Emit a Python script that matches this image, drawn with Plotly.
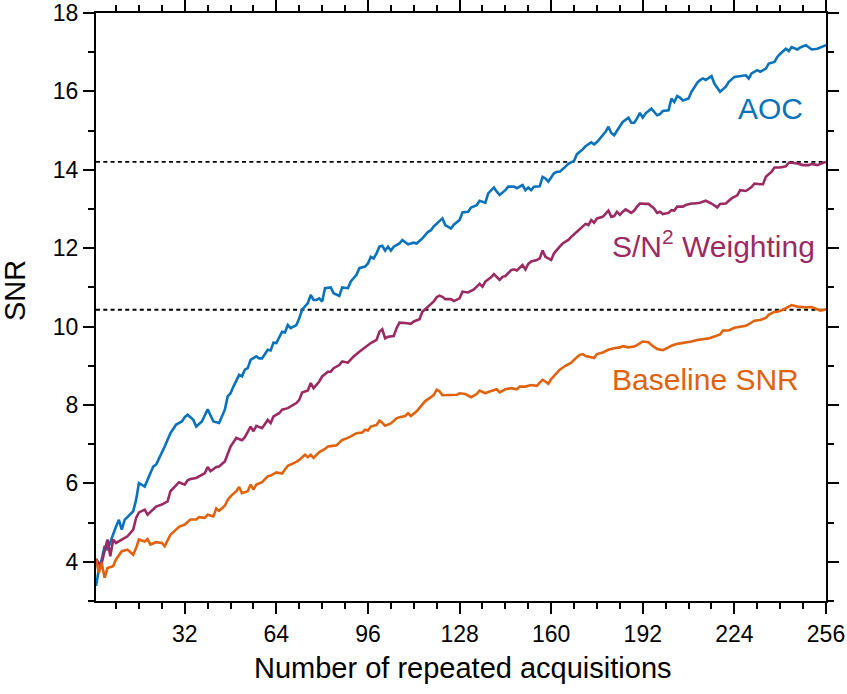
import plotly.graph_objects as go

# ---- data ----
aoc_x = [1, 2, 3, 4, 5, 7, 8, 9, 10, 11, 13, 14, 15, 16, 18, 19, 21, 22, 24, 25, 27, 29, 31, 32, 33, 35, 36, 38, 40, 42, 44, 46, 47, 48, 49, 51, 52, 53, 54, 55, 57, 58, 59, 61, 62, 63, 64, 66, 67, 68, 69, 71, 72, 73, 75, 76, 77, 78, 79, 80, 81, 83, 84, 86, 87, 89, 90, 92, 93, 95, 96, 97, 98, 99, 100, 101, 102, 103, 104, 105, 107, 108, 110, 112, 113, 115, 117, 118, 119, 120, 122, 123, 125, 126, 128, 129, 131, 132, 134, 135, 137, 138, 140, 141, 142, 144, 145, 147, 148, 150, 151, 152, 153, 154, 156, 157, 158, 159, 161, 162, 163, 165, 166, 168, 169, 171, 172, 174, 175, 176, 178, 179, 180, 181, 182, 183, 184, 185, 187, 188, 189, 190, 191, 192, 193, 195, 196, 197, 198, 199, 201, 202, 203, 204, 205, 206, 208, 209, 210, 211, 212, 213, 214, 216, 217, 219, 221, 222, 224, 226, 228, 229, 230, 232, 233, 235, 236, 238, 239, 240, 241, 242, 243, 244, 246, 247, 249, 251, 253, 254, 256]
aoc_y = [3.38, 3.8, 4.06, 4.4, 4.3, 4.73, 4.9, 5.07, 4.82, 5.07, 5.2, 5.29, 5.58, 6.01, 5.92, 6.09, 6.43, 6.48, 6.77, 6.94, 7.28, 7.5, 7.58, 7.69, 7.75, 7.62, 7.45, 7.58, 7.89, 7.58, 7.54, 7.88, 8.22, 8.3, 8.47, 8.77, 8.73, 8.9, 8.94, 9.15, 9.24, 9.19, 9.19, 9.41, 9.39, 9.59, 9.58, 9.87, 9.85, 10.04, 9.96, 10.04, 10.21, 10.43, 10.6, 10.81, 10.68, 10.68, 10.72, 10.64, 10.98, 11.0, 10.85, 10.78, 11.0, 10.98, 11.15, 11.32, 11.49, 11.53, 11.61, 11.78, 11.74, 11.87, 12.04, 12.06, 11.94, 12.04, 11.94, 12.04, 12.12, 12.21, 12.1, 12.14, 12.12, 12.25, 12.42, 12.46, 12.56, 12.62, 12.76, 12.59, 12.5, 12.6, 12.72, 12.91, 12.93, 13.04, 13.1, 13.21, 13.16, 13.4, 13.55, 13.44, 13.36, 13.48, 13.57, 13.57, 13.53, 13.61, 13.48, 13.55, 13.48, 13.57, 13.58, 13.82, 13.78, 13.7, 13.91, 13.95, 13.95, 14.08, 14.15, 14.23, 14.4, 14.52, 14.6, 14.7, 14.65, 14.71, 14.88, 14.97, 15.1, 14.94, 14.88, 15.01, 15.11, 15.22, 15.33, 15.2, 15.2, 15.31, 15.45, 15.33, 15.44, 15.56, 15.48, 15.39, 15.42, 15.5, 15.52, 15.82, 15.73, 15.88, 15.84, 15.77, 15.82, 15.99, 16.1, 16.22, 16.29, 16.33, 16.29, 16.39, 16.2, 15.99, 16.12, 16.24, 16.37, 16.39, 16.41, 16.33, 16.46, 16.54, 16.5, 16.58, 16.71, 16.75, 16.88, 16.96, 17.03, 17.09, 17.03, 17.13, 17.07, 17.12, 17.18, 17.07, 17.09, 17.12, 17.18]

sn2_x = [1, 2, 3, 5, 6, 7, 8, 10, 11, 12, 14, 15, 16, 18, 19, 21, 22, 24, 26, 27, 29, 30, 32, 33, 34, 36, 37, 39, 40, 41, 43, 44, 46, 47, 48, 50, 52, 53, 55, 56, 57, 59, 60, 61, 62, 63, 65, 66, 68, 69, 71, 72, 73, 75, 76, 77, 79, 80, 82, 83, 84, 86, 87, 89, 91, 93, 94, 96, 97, 99, 100, 101, 102, 103, 105, 106, 107, 109, 111, 112, 114, 115, 117, 119, 120, 121, 122, 123, 125, 126, 128, 129, 131, 133, 134, 135, 136, 137, 139, 140, 142, 143, 144, 146, 147, 148, 150, 151, 152, 153, 155, 156, 157, 158, 160, 161, 163, 164, 166, 167, 169, 171, 172, 173, 174, 175, 176, 178, 179, 180, 181, 182, 183, 184, 185, 186, 188, 189, 190, 191, 193, 194, 196, 197, 198, 199, 201, 202, 203, 204, 206, 207, 209, 210, 212, 214, 216, 218, 219, 221, 223, 225, 226, 228, 230, 231, 233, 234, 235, 237, 238, 240, 242, 243, 244, 246, 248, 250, 251, 253, 255, 256]
sn2_y = [4.08, 3.95, 3.97, 4.57, 4.14, 4.57, 4.48, 4.57, 4.61, 4.65, 4.82, 5.12, 5.26, 5.33, 5.2, 5.33, 5.41, 5.46, 5.54, 5.8, 5.97, 6.03, 5.97, 6.08, 6.11, 6.14, 6.18, 6.26, 6.42, 6.31, 6.42, 6.43, 6.56, 6.77, 6.94, 7.16, 7.1, 7.18, 7.45, 7.33, 7.47, 7.41, 7.5, 7.62, 7.54, 7.71, 7.79, 7.88, 7.92, 7.96, 8.05, 8.13, 8.32, 8.37, 8.56, 8.43, 8.6, 8.73, 8.85, 8.85, 8.94, 9.02, 9.11, 9.08, 9.24, 9.36, 9.42, 9.53, 9.58, 9.66, 9.87, 9.93, 9.7, 9.74, 9.76, 9.96, 10.1, 10.09, 10.07, 10.13, 10.19, 10.38, 10.51, 10.64, 10.75, 10.79, 10.76, 10.7, 10.7, 10.65, 10.72, 10.89, 10.87, 10.95, 11.02, 11.09, 11.02, 11.15, 11.26, 11.34, 11.19, 11.27, 11.29, 11.44, 11.46, 11.43, 11.57, 11.46, 11.6, 11.66, 11.7, 11.74, 11.94, 11.78, 11.7, 11.87, 12.04, 12.12, 12.21, 12.29, 12.42, 12.55, 12.62, 12.59, 12.72, 12.65, 12.76, 12.8, 12.87, 12.96, 12.8, 12.82, 12.93, 12.85, 12.93, 12.99, 12.9, 12.96, 13.06, 13.14, 13.13, 13.13, 13.01, 12.9, 12.93, 12.87, 12.9, 12.97, 12.96, 13.06, 13.06, 13.1, 13.14, 13.14, 13.16, 13.21, 13.14, 13.04, 13.13, 13.14, 13.27, 13.35, 13.48, 13.46, 13.56, 13.65, 13.63, 13.63, 13.82, 13.95, 14.06, 14.06, 14.09, 14.18, 14.18, 14.16, 14.12, 14.12, 14.15, 14.12, 14.18, 14.2]

base_x = [1, 2, 3, 4, 5, 7, 8, 10, 12, 14, 15, 16, 18, 19, 20, 22, 24, 25, 27, 29, 30, 32, 34, 36, 37, 39, 40, 42, 43, 44, 46, 47, 48, 50, 51, 52, 54, 55, 56, 57, 59, 61, 62, 64, 66, 68, 69, 71, 72, 74, 75, 76, 77, 79, 81, 82, 83, 85, 87, 88, 90, 91, 92, 94, 95, 96, 97, 99, 100, 101, 102, 104, 105, 106, 107, 109, 110, 111, 113, 115, 116, 118, 119, 120, 121, 122, 124, 127, 128, 130, 132, 134, 135, 137, 138, 140, 141, 142, 144, 146, 148, 149, 151, 153, 155, 156, 157, 158, 159, 160, 162, 163, 165, 167, 169, 170, 171, 172, 174, 175, 176, 178, 180, 182, 184, 185, 187, 189, 190, 192, 194, 195, 197, 198, 199, 201, 202, 204, 206, 207, 209, 211, 213, 215, 217, 219, 220, 222, 224, 226, 228, 229, 231, 233, 235, 236, 238, 239, 241, 243, 244, 246, 248, 249, 251, 252, 254, 256]
base_y = [4.06, 3.72, 3.97, 3.59, 3.84, 3.89, 4.06, 4.27, 4.31, 4.18, 4.35, 4.57, 4.52, 4.58, 4.44, 4.5, 4.48, 4.4, 4.69, 4.82, 4.89, 4.95, 5.08, 5.08, 5.14, 5.12, 5.2, 5.16, 5.36, 5.3, 5.43, 5.58, 5.67, 5.8, 5.91, 5.75, 5.8, 5.97, 5.84, 5.97, 6.03, 6.18, 6.2, 6.28, 6.25, 6.45, 6.48, 6.55, 6.6, 6.73, 6.67, 6.73, 6.65, 6.8, 6.88, 6.94, 6.95, 6.97, 7.11, 7.13, 7.2, 7.24, 7.28, 7.3, 7.37, 7.35, 7.45, 7.49, 7.6, 7.55, 7.47, 7.53, 7.6, 7.66, 7.69, 7.72, 7.79, 7.72, 7.84, 8.0, 8.1, 8.2, 8.26, 8.39, 8.35, 8.25, 8.26, 8.26, 8.3, 8.28, 8.2, 8.28, 8.37, 8.3, 8.33, 8.37, 8.4, 8.32, 8.4, 8.43, 8.4, 8.47, 8.47, 8.51, 8.49, 8.57, 8.64, 8.6, 8.54, 8.66, 8.83, 8.9, 9.0, 9.08, 9.22, 9.28, 9.3, 9.25, 9.22, 9.2, 9.3, 9.34, 9.41, 9.45, 9.47, 9.5, 9.47, 9.49, 9.53, 9.62, 9.6, 9.53, 9.43, 9.41, 9.4, 9.47, 9.51, 9.56, 9.58, 9.59, 9.62, 9.66, 9.68, 9.7, 9.75, 9.8, 9.9, 9.9, 9.97, 10.0, 10.02, 10.06, 10.15, 10.17, 10.22, 10.3, 10.38, 10.38, 10.43, 10.51, 10.55, 10.51, 10.49, 10.49, 10.5, 10.47, 10.41, 10.44]

ref_levels = [14.2, 10.43]
x_tick_vals = [32, 64, 96, 128, 160, 192, 224, 256]
y_tick_vals = [4, 6, 8, 10, 12, 14, 16, 18]

labels = ["AOC", "S/N<sup>2</sup> Weighting", "Baseline SNR"]
label_x = [224.5, 180.5, 180.5]
label_y = [15.56, 12.12, 8.66]

colors = ["#0a72ba", "#9c2a62", "#e0620c"]
FONT = "Liberation Sans, Arial, sans-serif"

fig = go.Figure()
for xs, ys, c, name in [(aoc_x, aoc_y, colors[0], labels[0]),
                        (sn2_x, sn2_y, colors[1], labels[1]),
                        (base_x, base_y, colors[2], labels[2])]:
    fig.add_trace(go.Scatter(x=xs, y=ys, mode="lines", name=name,
                             line=dict(color=c, width=2.6), showlegend=False))

for lv in ref_levels:
    fig.add_shape(type="line", xref="x", yref="y", x0=1, x1=256, y0=lv, y1=lv,
                  line=dict(color="black", width=1.8, dash="4px,3.3px"), layer="below")

for t, xx, yy, c in zip(labels, label_x, label_y, colors):
    fig.add_annotation(x=xx, y=yy, xref="x", yref="y", text=t, showarrow=False,
                       xanchor="left", yanchor="middle",
                       font=dict(family=FONT, size=30, color=c))

fig.add_annotation(x=(463 - 96) / 730, y=(601 - 668) / 588, xref="paper", yref="paper",
                   text="Number of repeated acquisitions", showarrow=False,
                   xanchor="center", yanchor="middle",
                   font=dict(family=FONT, size=29, color="black"))
fig.add_annotation(x=(15 - 96) / 730, y=(601 - 291) / 588, xref="paper", yref="paper",
                   text="SNR", showarrow=False, textangle=-90,
                   xanchor="center", yanchor="middle",
                   font=dict(family=FONT, size=29, color="black"))

axis_common = dict(showline=True, linecolor="black", linewidth=2, mirror="ticks",
                   ticks="outside", ticklen=11, tickwidth=2, tickcolor="black",
                   showgrid=False, zeroline=False, automargin=False,
                   tickfont=dict(family=FONT, size=23, color="black"))

fig.update_xaxes(range=[1, 256], tickvals=x_tick_vals,
                 minor=dict(tick0=0, dtick=8, ticks="outside", ticklen=6,
                            tickwidth=2, tickcolor="black", showgrid=False),
                 **axis_common)
fig.update_yaxes(range=[3, 18], tickvals=y_tick_vals,
                 minor=dict(tick0=0, dtick=1, ticks="outside", ticklen=6,
                            tickwidth=2, tickcolor="black", showgrid=False),
                 **axis_common)

fig.update_layout(width=847, height=694, autosize=False, hovermode=False,
                  margin=dict(l=96, r=21, t=13, b=93),
                  plot_bgcolor="white", paper_bgcolor="white",
                  font=dict(family=FONT, color="black"))

fig.write_html("out.html", config={"displayModeBar": False, "responsive": False},
               post_script=("document.body.style.margin='0';"
                            "document.body.style.overflow='hidden';"
                            "var d=document.getElementsByClassName('plotly-graph-div')[0];"
                            "d.style.position='fixed';d.style.left='0px';d.style.top='0px';"))
